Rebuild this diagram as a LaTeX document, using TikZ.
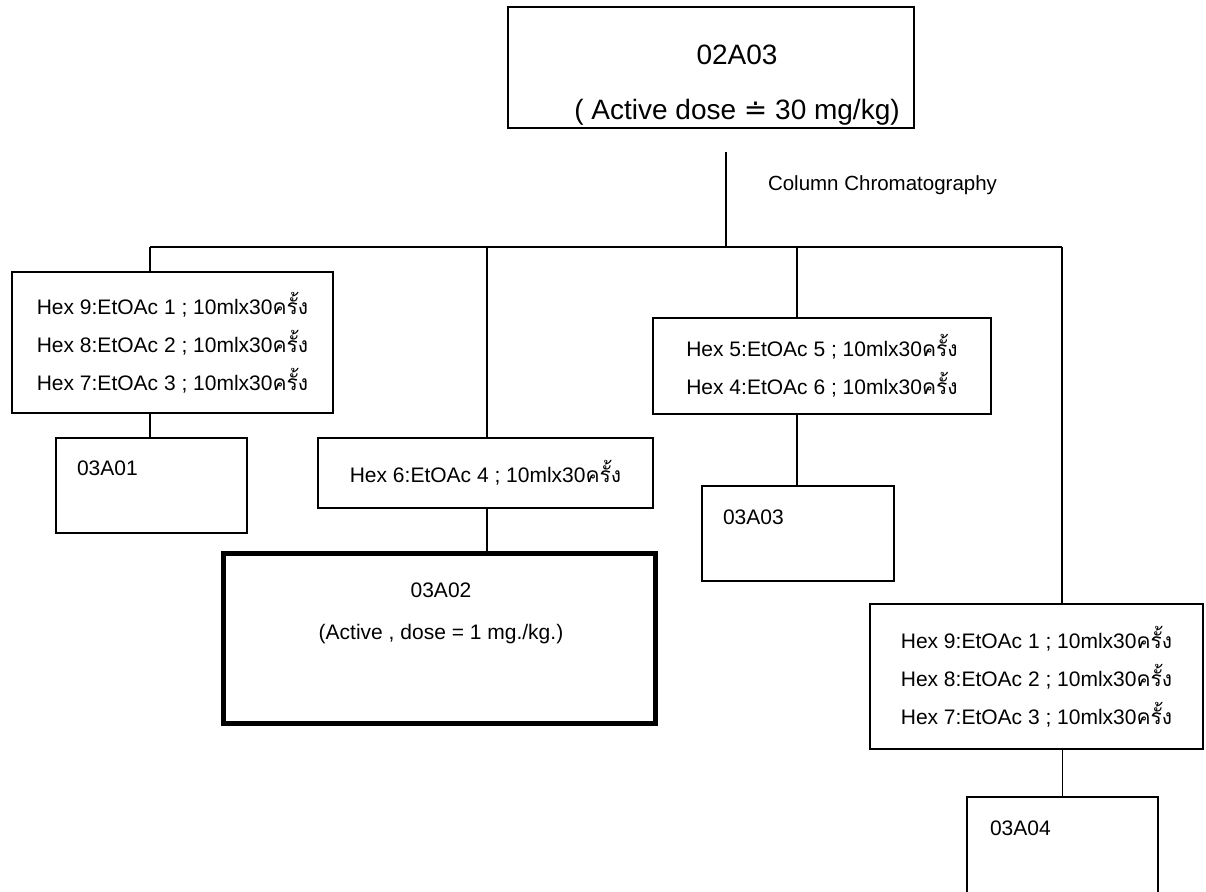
\documentclass[tikz,border=0pt]{standalone}
\usepackage{fontspec}
\setmainfont{Liberation Sans}
\newfontfamily\thaifont[Script=Thai]{Loma}
\newfontfamily\dvfont{DejaVu Sans}
\usetikzlibrary{positioning}
\newcommand{\krang}{{\thaifont ครั้ง}}

\begin{document}
\begin{tikzpicture}[
  x=1pt, y=-1pt,
  font=\fontsize{21}{38}\selectfont,
  box/.style={draw, line width=1.3pt, inner sep=0pt, outer sep=0pt,
              align=center, anchor=north west},
  boldbox/.style={box, line width=5pt},
  lbl/.style={inner sep=0pt, outer sep=0pt},
  link/.style={line width=1.3pt},
]
\clip (0,0) rectangle (1206,891);
\node[box, minimum width=406, minimum height=121] (top) at (508,7) {};
\node[lbl, font=\fontsize{28}{55}\selectfont, align=center, anchor=north] (toptxt) at (737,45)
  {02A03\\( Active dose {\dvfont ≐} 30 mg/kg)};
\node[lbl, font=\fontsize{20.5}{24}\selectfont, anchor=west] (cc) at (768,185) {Column Chromatography};
\node[box, minimum width=321, minimum height=141] (hexA) at (12,272)
  {Hex 9:EtOAc 1 ; 10mlx30\krang\\ Hex 8:EtOAc 2 ; 10mlx30\krang\\ Hex 7:EtOAc 3 ; 10mlx30\krang};
\node[box, minimum width=191, minimum height=95] (a01) at (56,438) {};
\node[lbl, anchor=west] (a01txt) at (77,468) {03A01};
\node[box, minimum width=335, minimum height=70] (hexB) at (318,438) {Hex 6:EtOAc 4 ; 10mlx30\krang};
\node[boldbox, minimum width=432, minimum height=170] (a02) at (223,553) {};
\node[lbl, align=center, anchor=north, font=\fontsize{21}{42}\selectfont] (a02txt) at (441,583)
  {03A02\\ (Active , dose = 1 mg./kg.)};
\node[box, minimum width=338, minimum height=96] (hexC) at (653,318)
  {Hex 5:EtOAc 5 ; 10mlx30\krang\\ Hex 4:EtOAc 6 ; 10mlx30\krang};
\node[box, minimum width=192, minimum height=95] (a03) at (702,486) {};
\node[lbl, anchor=west] (a03txt) at (723,517) {03A03};
\node[box, minimum width=333, minimum height=145] (hexD) at (870,604)
  {Hex 9:EtOAc 1 ; 10mlx30\krang\\ Hex 8:EtOAc 2 ; 10mlx30\krang\\ Hex 7:EtOAc 3 ; 10mlx30\krang};
\node[box, minimum width=191, minimum height=115] (a04) at (967,797) {};
\node[lbl, anchor=west] (a04txt) at (990,828) {03A04};
\coordinate (stem) at (726,152);
\coordinate (b1) at (150,247);
\coordinate (b2) at (487,247);
\coordinate (b3) at (797,247);
\coordinate (b4) at (1062,247);
\draw[link] (stem) -- (stem |- b1);
\draw[link] (b1) -- (b4);
\draw[link] (b1) -- (b1 |- hexA.north);
\draw[link] (hexA.south -| b1) -- (a01.north -| b1);
\draw[link] (b2) -- (b2 |- hexB.north);
\draw[link] (hexB.south -| b2) -- (a02.north -| b2);
\draw[link] (b3) -- (b3 |- hexC.north);
\draw[link] (hexC.south -| b3) -- (a03.north -| b3);
\draw[link] (b4) -- (b4 |- hexD.north);
\draw[link] (hexD.south -| a04.north) -- (a04.north);
\end{tikzpicture}
\end{document}
